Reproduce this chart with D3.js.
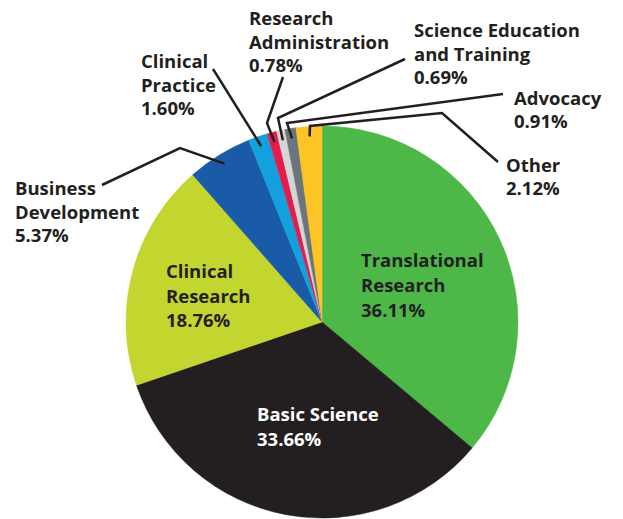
<!DOCTYPE html>
<html>
<head>
<meta charset="utf-8">
<script src="https://cdn.jsdelivr.net/npm/d3@7"></script>
<style>
  html, body { margin: 0; padding: 0; background: #fff; }
  svg { display: block; }
  text { font-family: "Open Sans", sans-serif; font-weight: 700; font-size: 18.5px; }
</style>
</head>
<body>
<div id="chart"></div>
<script>
// Funding categories, clockwise from 12 o'clock
const categories = [
  'Translational Research', 'Basic Science', 'Clinical Research',
  'Business Development', 'Clinical Practice', 'Research Administration',
  'Science Education and Training', 'Advocacy', 'Other'
];
const percents = [36.11, 33.66, 18.76, 5.37, 1.60, 0.78, 0.69, 0.91, 2.12];
const colors = ['#4db848', '#231f20', '#c3d52f', '#195ba6', '#12a1dd',
                '#e31c4c', '#d3d5d6', '#6c757b', '#fdc426'];

// Label text lines (last line is the percent)
const labelLines = [
  ['Translational', 'Research'], ['Basic Science'], ['Clinical', 'Research'],
  ['Business', 'Development'], ['Clinical', 'Practice'], ['Research', 'Administration'],
  ['Science Education', 'and Training'], ['Advocacy'], ['Other']
];

const width = 623, height = 519;
const cx = 322, cy = 322, radius = 196;

// label layout: text origin, line spacing, leader polyline (without slice end)
const layout = {
  'Translational Research':       { x: 361, y: 267, lh: 25, fill: '#231f20' },
  'Basic Science':                { x: 257, y: 421, lh: 25, fill: '#fff' },
  'Clinical Research':            { x: 166, y: 278, lh: 24.5, fill: '#231f20' },
  'Business Development':         { x: 15,  y: 195, lh: 23.5, fill: '#231f20', leader: [[102, 185], [180, 148]] },
  'Clinical Practice':            { x: 141, y: 68,  lh: 23.5, fill: '#231f20', leader: [[213, 69]] },
  'Research Administration':      { x: 249, y: 25,  lh: 23.5, fill: '#231f20', leader: [[283, 77], [267, 123]] },
  'Science Education and Training': { x: 414, y: 37, lh: 23.5, fill: '#231f20', leader: [[405, 59], [278, 118]] },
  'Advocacy':                     { x: 514, y: 105, lh: 23, fill: '#231f20', leader: [[503, 94], [287, 123]] },
  'Other':                        { x: 506, y: 172, lh: 23, fill: '#231f20', leader: [[498, 162], [442, 113], [310, 126]] }
};

const data = categories.map((c, i) => ({ name: c, value: percents[i], color: colors[i], lines: labelLines[i] }));

const svg = d3.select('#chart').append('svg')
  .attr('width', width)
  .attr('height', height);

const pie = d3.pie().value(d => d.value).sort(null);
const arcs = pie(data);

const arc = d3.arc().innerRadius(0).outerRadius(radius);
const stubArc = d3.arc().innerRadius(186).outerRadius(186);

const g = svg.append('g').attr('transform', `translate(${cx},${cy})`);

g.selectAll('path')
  .data(arcs)
  .enter()
  .append('path')
  .attr('d', arc)
  .attr('fill', d => d.data.color)
  .attr('stroke', d => d.data.color)
  .attr('stroke-width', 0.5);

// Leader lines
const line = d3.line();
arcs.forEach(a => {
  const L = layout[a.data.name];
  if (!L.leader) return;
  const [ex, ey] = stubArc.centroid(a);
  const pts = L.leader.concat([[cx + ex, cy + ey]]);
  svg.append('path')
    .attr('d', line(pts))
    .attr('fill', 'none')
    .attr('stroke', '#231f20')
    .attr('stroke-width', 2.5)
    .attr('stroke-linejoin', 'miter');
});

// Labels
arcs.forEach(a => {
  const L = layout[a.data.name];
  const rows = a.data.lines.concat([a.data.value.toFixed(2) + '%']);
  const t = svg.append('text')
    .attr('x', L.x)
    .attr('y', L.y)
    .attr('fill', L.fill);
  rows.forEach((r, i) => {
    t.append('tspan')
      .attr('x', L.x)
      .attr('y', L.y + i * L.lh)
      .text(r);
  });
});
</script>
</body>
</html>
